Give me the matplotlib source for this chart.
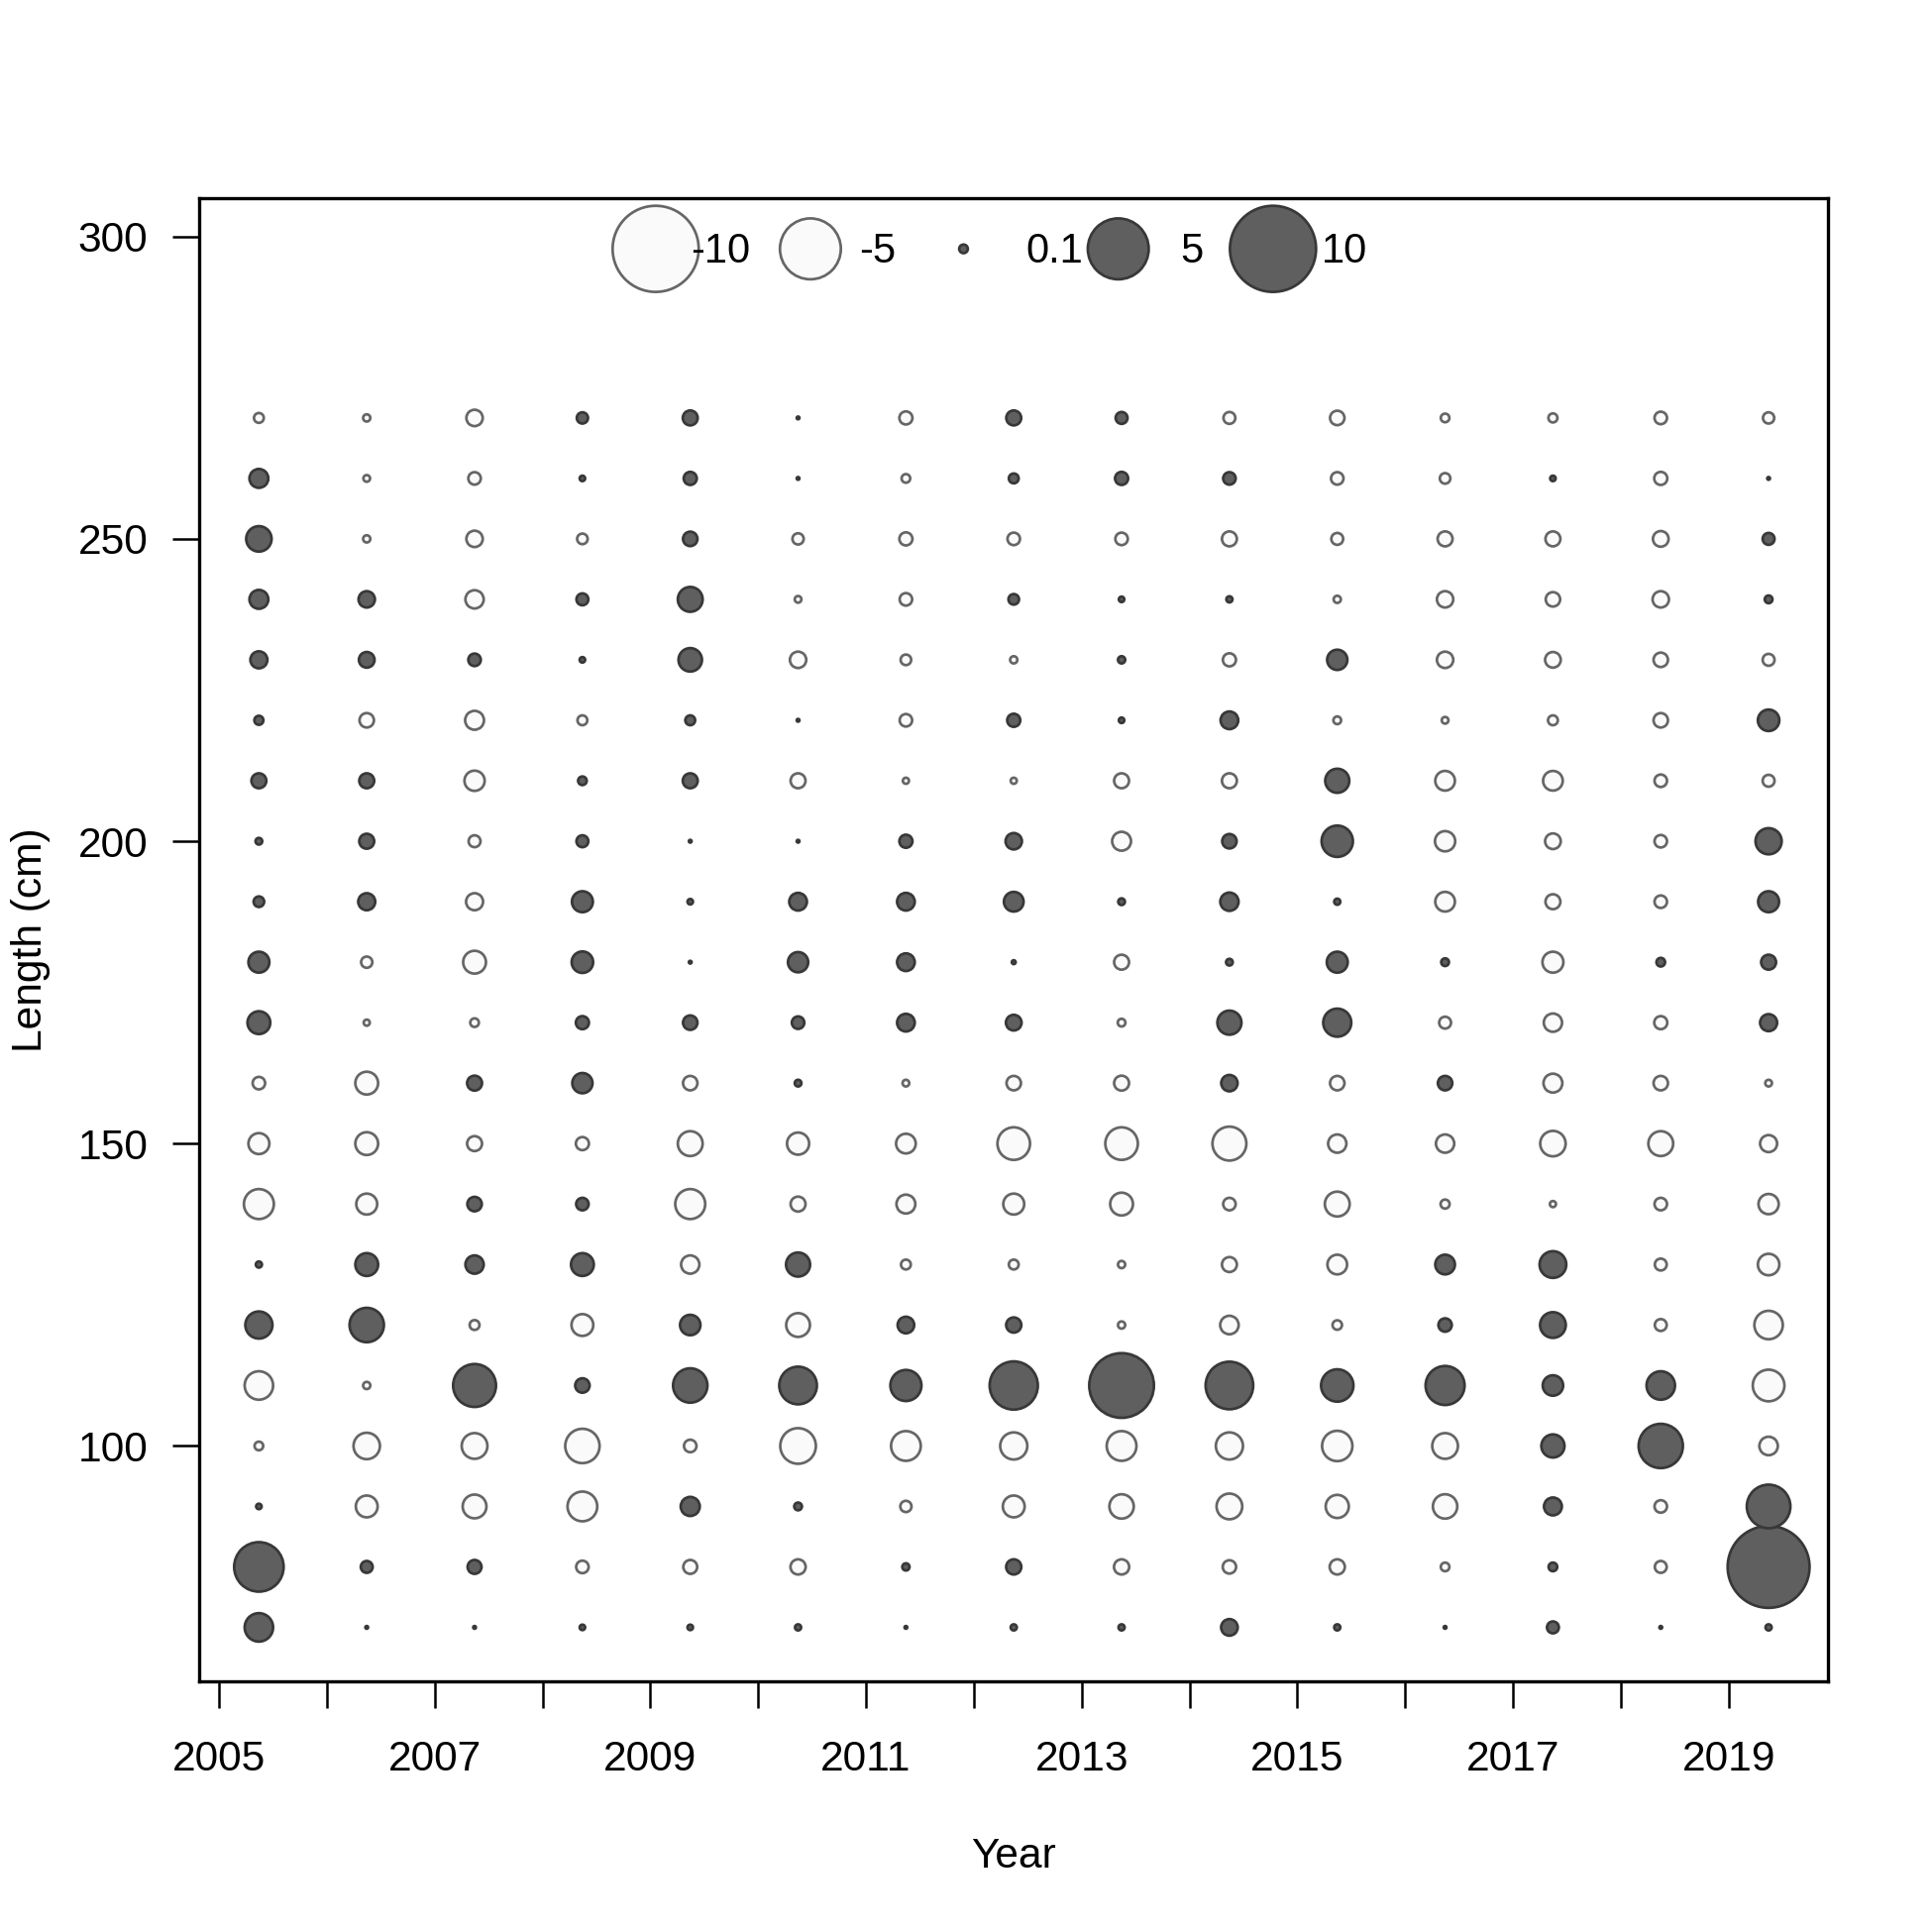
import numpy as np
import matplotlib
matplotlib.use("Agg")
import matplotlib.pyplot as plt

plt.rcParams['font.family'] = ['Liberation Sans', 'DejaVu Sans']

# length bins (cm) and survey years
lengths = [70, 80, 90, 100, 110, 120, 130, 140, 150, 160, 170,
           180, 190, 200, 210, 220, 230, 240, 250, 260, 270]
years = [2005, 2006, 2007, 2008, 2009, 2010, 2011, 2012,
         2013, 2014, 2015, 2016, 2017, 2018, 2019]
season_offset = 0.37

# Pearson residuals per year, ordered by length bin 70 -> 270
res_2005 = [1.09, 3.3, 0.04, -0.1, -1.09, 0.99, 0.05, -1.21, -0.59, -0.21, 0.7,
            0.59, 0.15, 0.06, 0.3, 0.11, 0.39, 0.48, 0.87, 0.48, -0.13]
res_2006 = [0.01, 0.19, -0.64, -0.94, -0.07, 1.59, 0.7, -0.59, -0.7, -0.7, -0.05,
            -0.17, 0.39, 0.3, 0.3, -0.28, 0.33, 0.36, -0.07, -0.06, -0.07]
res_2007 = [0.01, 0.26, -0.76, -0.89, 2.48, -0.13, 0.45, 0.28, -0.3, 0.3, -0.1,
            -0.7, -0.39, -0.19, -0.55, -0.48, 0.21, -0.45, -0.36, -0.21, -0.36]
res_2008 = [0.04, -0.21, -1.19, -1.59, 0.28, -0.64, 0.7, 0.21, -0.23, 0.55, 0.23,
            0.62, 0.59, 0.19, 0.1, -0.13, 0.04, 0.19, -0.15, 0.04, 0.17]
res_2009 = [0.04, -0.26, 0.49, -0.21, 1.59, 0.56, -0.45, -1.21, -0.83, -0.28, 0.28,
            0.01, 0.04, 0.01, 0.3, 0.13, 0.74, 0.83, 0.28, 0.23, 0.3]
res_2010 = [0.05, -0.31, 0.08, -1.71, 1.91, -0.76, 0.78, -0.3, -0.66, 0.06, 0.21,
            0.55, 0.42, 0.01, -0.3, 0.01, -0.36, -0.06, -0.17, 0.01, 0.01]
res_2011 = [0.01, 0.07, -0.17, -1.19, 1.3, 0.37, -0.13, -0.48, -0.52, -0.06, 0.42,
            0.42, 0.42, 0.23, -0.05, -0.21, -0.15, -0.21, -0.23, -0.1, -0.23]
res_2012 = [0.05, 0.31, -0.64, -0.99, 3.13, 0.31, -0.13, -0.59, -1.43, -0.28, 0.33,
            0.02, 0.52, 0.36, -0.05, 0.23, -0.07, 0.15, -0.21, 0.13, 0.3]
res_2013 = [0.05, -0.31, -0.8, -1.19, 5.64, -0.07, -0.07, -0.7, -1.43, -0.3, -0.08,
            -0.3, 0.06, -0.48, -0.3, 0.04, 0.07, 0.04, -0.21, 0.23, 0.19]
res_2014 = [0.37, -0.24, -0.89, -0.99, 3.05, -0.46, -0.3, -0.21, -1.55, 0.36, 0.78,
            0.06, 0.45, 0.28, -0.3, 0.42, -0.23, 0.05, -0.3, 0.21, -0.19]
res_2015 = [0.05, -0.31, -0.72, -1.24, 1.41, -0.12, -0.52, -0.83, -0.45, -0.28, 1.06,
            0.59, 0.05, 1.32, 0.78, -0.08, 0.55, -0.07, -0.19, -0.21, -0.28]
res_2016 = [0.01, -0.1, -0.8, -0.89, 2.05, 0.24, 0.52, -0.11, -0.45, 0.28, -0.19,
            0.08, -0.52, -0.55, -0.52, -0.06, -0.36, -0.36, -0.3, -0.15, -0.1]
res_2017 = [0.19, 0.1, 0.43, 0.72, 0.56, 0.89, 0.96, -0.05, -0.87, -0.48, -0.45,
            -0.59, -0.3, -0.33, -0.52, -0.13, -0.33, -0.28, -0.3, 0.04, -0.11]
res_2018 = [0.01, -0.19, -0.21, 2.64, 1.09, -0.19, -0.19, -0.21, -0.83, -0.28, -0.23,
            0.1, -0.21, -0.21, -0.21, -0.28, -0.28, -0.36, -0.33, -0.23, -0.21]
res_2019 = [0.05, 9.04, 2.56, -0.46, -1.35, -1.09, -0.62, -0.55, -0.39, -0.06, 0.39,
            0.3, 0.59, 0.92, -0.19, 0.62, -0.19, 0.08, 0.19, 0.01, -0.17]

residuals = [res_2005, res_2006, res_2007, res_2008, res_2009, res_2010, res_2011,
             res_2012, res_2013, res_2014, res_2015, res_2016, res_2017, res_2018,
             res_2019]

legend_values = [-10, -5, 0.1, 5, 10]
legend_labels = ["-10", "-5", "0.1", "5", "10"]

POS_FACE, POS_EDGE = "#5f5f5f", "#383838"
NEG_FACE, NEG_EDGE = "#fafafa", "#666666"
SIZE_SCALE = 43.5  # marker area (pt^2) per unit of |residual|


def bubble_style(vals):
    vals = np.asarray(vals, dtype=float)
    sizes = SIZE_SCALE * np.abs(vals)
    faces = np.where(vals > 0, POS_FACE, NEG_FACE)
    edges = np.where(vals > 0, POS_EDGE, NEG_EDGE)
    return sizes, faces, edges


fig = plt.figure(figsize=(6.5, 6.5), dpi=300)
ax = fig.add_axes([0.1033, 0.1295, 0.8431, 0.7678])

for yr, vals in zip(years, residuals):
    sizes, faces, edges = bubble_style(vals)
    x = np.full(len(lengths), yr + season_offset)
    ax.scatter(x, lengths, s=sizes, c=faces, edgecolors=edges,
               linewidths=0.65, zorder=3)

ax.set_xlim(2004.82, 2019.925)
ax.set_ylim(61.0, 306.3)

ax.set_xticks(years)
ax.set_xticklabels([str(y) if (y - 2005) % 2 == 0 else "" for y in years])
ax.set_yticks([100, 150, 200, 250, 300])
ax.tick_params(direction="out", length=6.5, width=0.6, labelsize=10.2)
ax.tick_params(axis="x", pad=7.5)
ax.tick_params(axis="y", pad=6)
for sp in ax.spines.values():
    sp.set_linewidth(0.8)

ax.set_xlabel("Year", fontsize=10.2, labelpad=14)
ax.set_ylabel("Length (cm)", fontsize=10.2, labelpad=6.5)

# bubble legend along the top of the panel
leg_x = [0.280, 0.375, 0.469, 0.564, 0.659]
lab_x = [0.3015, 0.405, 0.507, 0.602, 0.689]
sizes, faces, edges = bubble_style(legend_values)
ax.scatter(leg_x, [0.966] * 5, s=sizes, c=faces, edgecolors=edges,
           linewidths=0.65, transform=ax.transAxes, zorder=4, clip_on=False)
for lx, lab in zip(lab_x, legend_labels):
    ax.text(lx, 0.964, lab, transform=ax.transAxes, fontsize=10,
            ha="left", va="center", zorder=5)

fig.savefig("out.png", dpi=300, facecolor="white")
